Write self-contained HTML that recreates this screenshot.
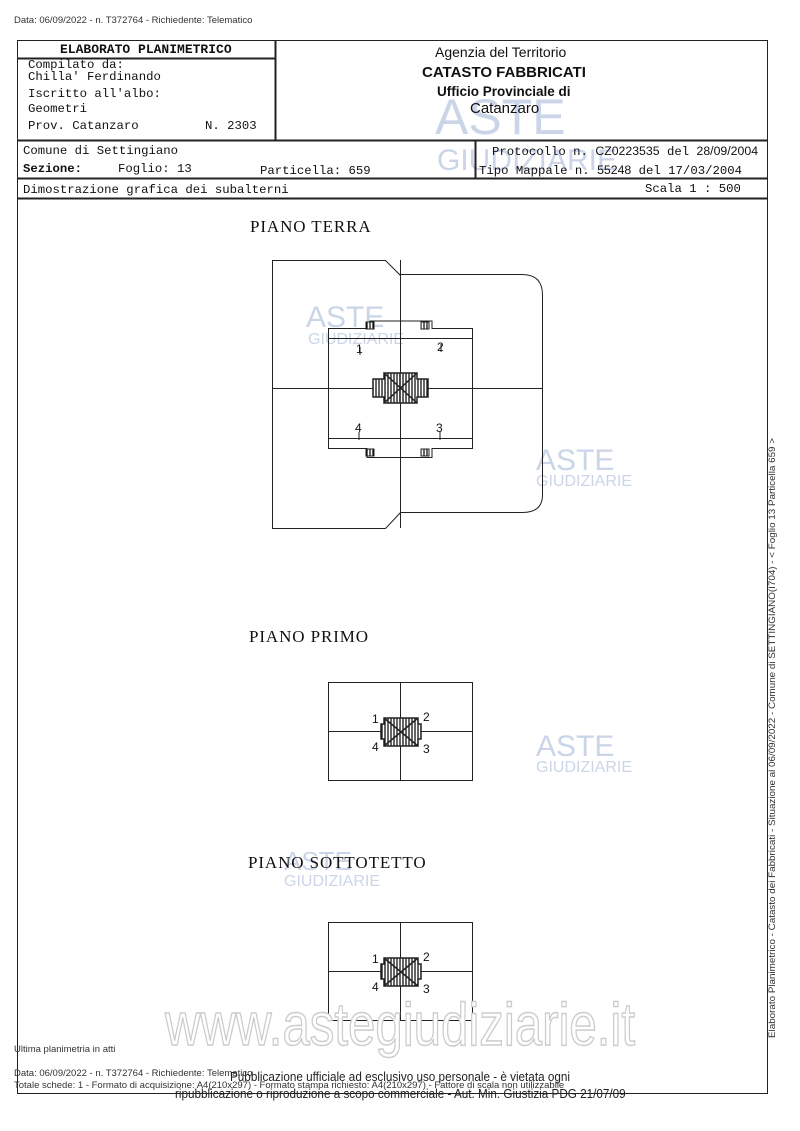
<!DOCTYPE html>
<html><head><meta charset="utf-8"><style>
body{margin:0;width:800px;height:1131px;background:#fff;position:relative;overflow:hidden;font-family:"Liberation Mono",monospace;color:#111}
.a{position:absolute;white-space:nowrap}
.s{font-family:"Liberation Sans",sans-serif}
.m{font-size:12.3px}
.t{font-family:'Liberation Serif',serif;font-size:17px;letter-spacing:0.9px}
</style></head><body>
<div class="a s" style="left:14px;top:15px;font-size:9.5px;color:#333">Data: 06/09/2022 - n. T372764 - Richiedente: Telematico</div>
<svg class="a" style="left:0;top:0" width="800" height="1131">
<defs><pattern id="h" width="3" height="3" patternUnits="userSpaceOnUse"><rect width="3" height="3" fill="#fff"/><line x1="1" y1="0" x2="1" y2="3" stroke="#000" stroke-width="1.2"/></pattern></defs>
<g fill="#9fb3d6" opacity="0.55" font-family="Liberation Sans,sans-serif">
<text x="435" y="134" font-size="50">ASTE</text><text x="437" y="170" font-size="30">GIUDIZIARIE</text>
<text x="306" y="327" font-size="30">ASTE</text><text x="308" y="344" font-size="16">GIUDIZIARIE</text>
<text x="536" y="470" font-size="30">ASTE</text><text x="536" y="486" font-size="16">GIUDIZIARIE</text>
<text x="536" y="756" font-size="30">ASTE</text><text x="536" y="772" font-size="16">GIUDIZIARIE</text>
<text x="284" y="870" font-size="26">ASTE</text><text x="284" y="886" font-size="16">GIUDIZIARIE</text>
</g>
<g fill="none" stroke="#222">
<rect x="17.5" y="40.5" width="750" height="1053" stroke-width="1"/>
<path d="M17.5 58.5H275.5M275.5 40.5V140.5" stroke-width="2"/>
<path d="M17.5 140.5H767.5M17.5 178.5H767.5M17.5 198.5H767.5M475.5 140.5V178.5" stroke-width="2"/>
<path d="M272.5 260.5H385.5L400.5 275.5V512.5L385.5 528.5H272.5Z"/>
<path d="M400.5 274.5H522Q542.5 274.5 542.5 295V495Q542.5 512.5 522 512.5H400.5"/>
<path d="M272.5 388.5H543M400.5 260V528"/>
<path d="M328.5 328.5V448.5H367V457.5H432V448.5H472.5V328.5H432V321H370V328.5Z"/>
<path d="M328.5 338.5H472.5M328.5 438.5H472.5M360 347V355M441 344V352M359 432V440M440 432V440"/>
<path d="M366 322h8v7h-8zM421 322h8v7h-8zM366 449h8v7h-8zM421 449h8v7h-8z" fill="url(#h)"/>
<path d="M384 373H417V379H428V397H417V403H384V397H373V379H384Z" fill="url(#h)" stroke-width="1.5"/>
<path d="M384 373L417 403M417 373L384 403M400 373V403" stroke-width="1.5"/>
<rect x="328.5" y="682.5" width="144" height="98"/>
<path d="M328.5 731.5H472.5M400.5 682V780"/>
<path d="M384 718H418V724H421V739H418V746H384V739H381V724H384Z" fill="url(#h)" stroke-width="1.5"/>
<path d="M384 718L418 746M418 718L384 746" stroke-width="1.5"/>
<rect x="328.5" y="922.5" width="144" height="98"/>
<path d="M328.5 971.5H472.5M400.5 922V1020"/>
<path d="M384 958H418V964H421V979H418V986H384V979H381V964H384Z" fill="url(#h)" stroke-width="1.5"/>
<path d="M384 958L418 986M418 958L384 986" stroke-width="1.5"/>
</g>
<text x="165" y="1045" font-family="Liberation Sans,sans-serif" font-size="60" fill="#fff" stroke="#ccc" stroke-width="1.5" textLength="470" lengthAdjust="spacingAndGlyphs">www.astegiudiziarie.it</text>
<g font-family="Liberation Sans,sans-serif" fill="#333" font-size="9.5">
<text transform="translate(775,1038) rotate(-90)" textLength="600" lengthAdjust="spacingAndGlyphs">Elaborato Planimetrico - Catasto dei Fabbricati - Situazione al 06/09/2022 - Comune di SETTINGIANO(I704) - &lt; Foglio 13 Particella 659 &gt;</text>
</g>
</svg>
<div class="a" style="left:60px;top:42px;font-size:13px;font-weight:bold">ELABORATO PLANIMETRICO</div>
<div class="a m" style="left:28px;top:59px;line-height:12px">Compilato da:<br>Chilla' Ferdinando</div>
<div class="a m" style="left:28px;top:87px;line-height:15px">Iscritto all'albo:<br>Geometri</div>
<div class="a m" style="left:28px;top:119px">Prov. Catanzaro</div>
<div class="a m" style="left:205px;top:119px">N.  2303</div>
<div class="a s" style="left:435px;top:44px;font-size:14px">Agenzia del Territorio</div>
<div class="a s" style="left:422px;top:64px;font-size:15px;font-weight:bold">CATASTO FABBRICATI</div>
<div class="a s" style="left:437px;top:84px;font-size:13.5px;font-weight:bold">Ufficio Provinciale di</div>
<div class="a s" style="left:470px;top:100px;font-size:15px">Catanzaro</div>
<div class="a m" style="left:23px;top:144px">Comune di Settingiano</div>
<div class="a m" style="left:23px;top:162px;font-weight:bold">Sezione:</div>
<div class="a m" style="left:118px;top:162px">Foglio: 13</div>
<div class="a m" style="left:260px;top:164px">Particella: 659</div>
<div class="a m" style="left:492px;top:144px">Protocollo n. <span class="s">CZ0223535</span> del <span class="s">28/09/2004</span></div>
<div class="a m" style="left:479px;top:163px">Tipo Mappale n. <span class="s">55248</span>   del 17/03/2004</div>
<div class="a m" style="left:23px;top:183px">Dimostrazione grafica dei subalterni</div>
<div class="a m" style="left:645px;top:182px">Scala 1 : 500</div>
<div class="a t" style="left:250px;top:217px">PIANO  TERRA</div>
<div class="a t" style="left:249px;top:627px">PIANO  PRIMO</div>
<div class="a t" style="left:248px;top:853px">PIANO  SOTTOTETTO</div>
<div class="a s" style="left:356px;top:342px;font-size:12px">1</div>
<div class="a s" style="left:437px;top:340px;font-size:12px">2</div>
<div class="a s" style="left:355px;top:421px;font-size:12px">4</div>
<div class="a s" style="left:436px;top:421px;font-size:12px">3</div>
<div class="a s" style="left:372px;top:712px;font-size:12px">1</div>
<div class="a s" style="left:423px;top:710px;font-size:12px">2</div>
<div class="a s" style="left:372px;top:740px;font-size:12px">4</div>
<div class="a s" style="left:423px;top:742px;font-size:12px">3</div>
<div class="a s" style="left:372px;top:952px;font-size:12px">1</div>
<div class="a s" style="left:423px;top:950px;font-size:12px">2</div>
<div class="a s" style="left:372px;top:980px;font-size:12px">4</div>
<div class="a s" style="left:423px;top:982px;font-size:12px">3</div>
<div class="a s" style="left:14px;top:1044px;font-size:9.5px;color:#333">Ultima planimetria in atti</div>
<div class="a s" style="left:14px;top:1068px;font-size:9.5px;color:#333">Data: 06/09/2022 - n. T372764 - Richiedente: Telematico</div>
<div class="a s" style="left:14px;top:1080px;font-size:9.5px;color:#333">Totale schede: 1 - Formato di acquisizione: A4(210x297)  - Formato stampa richiesto: A4(210x297) - Fattore di scala non utilizzabile</div>
<div class="a s" style="left:230px;top:1069px;font-size:13px;color:#222;transform:scaleX(0.9);transform-origin:0 0">Pubblicazione ufficiale ad esclusivo uso personale - è vietata ogni</div>
<div class="a s" style="left:175px;top:1086px;font-size:13px;color:#222;transform:scaleX(0.9);transform-origin:0 0">ripubblicazione o riproduzione a scopo commerciale - Aut. Min. Giustizia PDG 21/07/09</div>
</body></html>
